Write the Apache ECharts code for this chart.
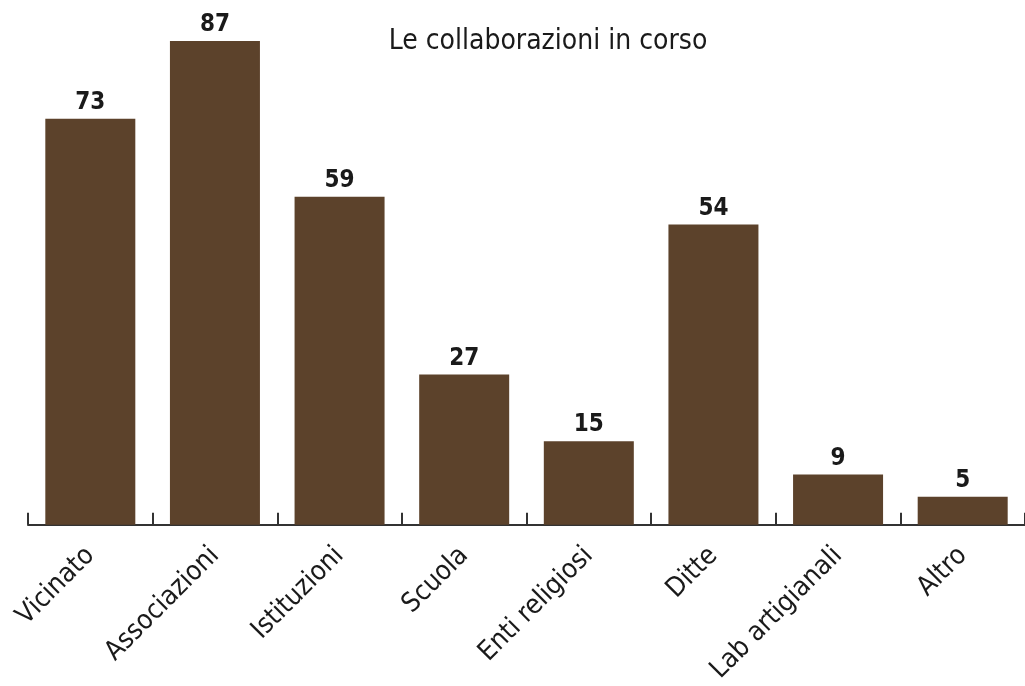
<!DOCTYPE html>
<html>
<head>
<meta charset="utf-8">
<script src="https://cdn.jsdelivr.net/npm/echarts@6/dist/echarts.min.js"></script>
<style>
  html, body { margin: 0; padding: 0; background: #fff; }
  #main { width: 1025px; height: 686px; }
</style>
</head>
<body>
<div id="main"></div>
<script>
// dati
const categories = ['Vicinato', 'Associazioni', 'Istituzioni', 'Scuola', 'Enti religiosi', 'Ditte', 'Lab artigianali', 'Altro']
const values = [73, 87, 59, 27, 15, 54, 9, 5]
const titleText = 'Le collaborazioni in corso'

const font = "'DejaVu Sans Condensed', 'Liberation Sans Narrow', sans-serif"
const myChart = echarts.init(document.getElementById('main'))
const option = {
  title: {
    text: titleText,
    left: 543,
    top: 23,
    textAlign: 'center',
    textStyle: { fontFamily: font, fontSize: 28, fontWeight: 'normal', color: '#1a1a1a' }
  },
  grid: { left: 28, right: -6, top: 41, bottom: 161, containLabel: false },
  xAxis: {
    type: 'category',
    data: categories,
    axisLine: { show: true, lineStyle: { color: '#333', width: 2 } },
    axisTick: { show: true, inside: true, length: 12, interval: 0, lineStyle: { color: '#333', width: 2 } },
    axisLabel: {
      rotate: 45,
      margin: 27,
      interval: 0,
      fontFamily: font,
      fontSize: 27,
      color: '#1a1a1a'
    }
  },
  yAxis: {
    type: 'value',
    min: 0,
    max: 87,
    show: false
  },
  series: [
    {
      type: 'bar',
      data: values,
      barWidth: 90,
      itemStyle: { color: '#5c422b' },
      label: {
        show: true,
        position: 'top',
        distance: 4,
        fontFamily: font,
        fontSize: 24,
        fontWeight: 'bold',
        color: '#1a1a1a'
      }
    }
  ]
}
myChart.setOption(option)
</script>
</body>
</html>
